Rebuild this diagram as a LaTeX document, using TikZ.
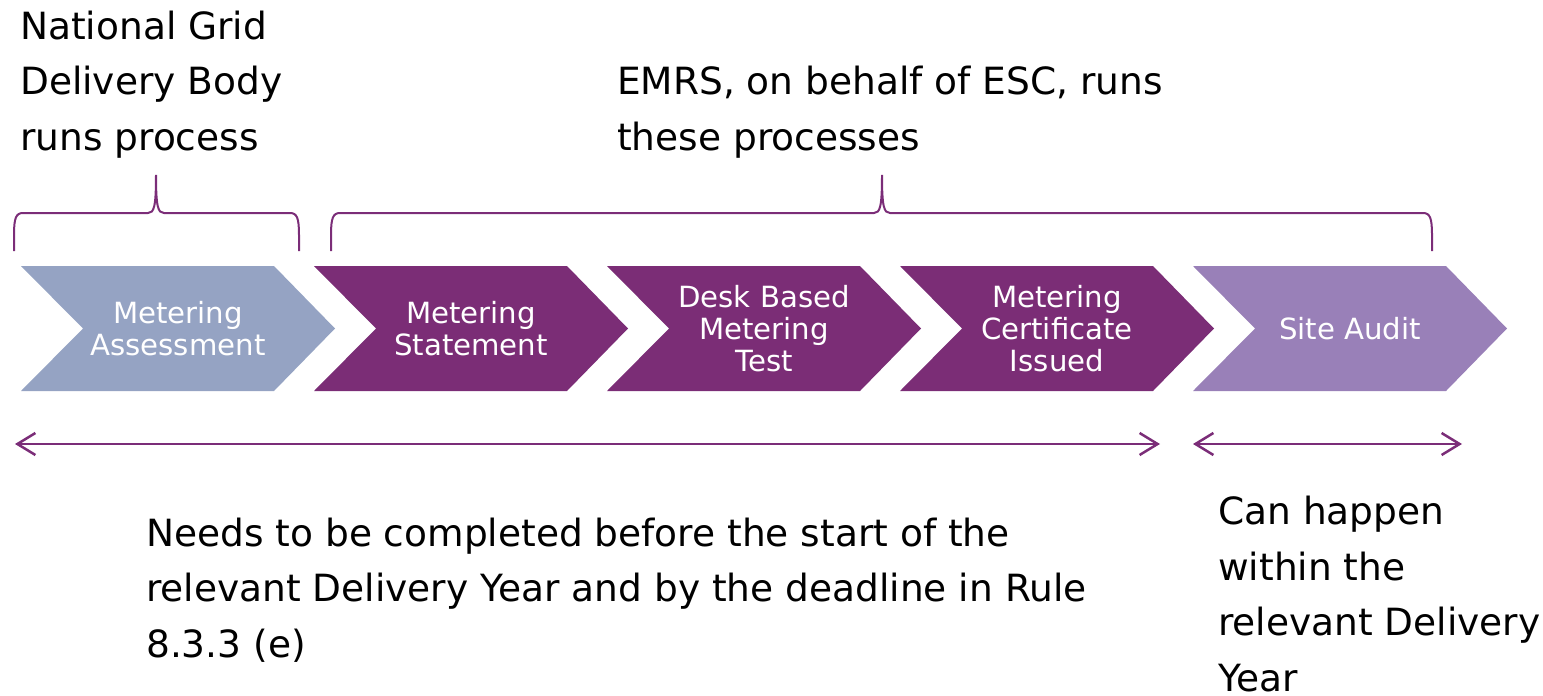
\documentclass[tikz,border=0pt]{standalone}
\usepackage{fontspec}
\setmainfont{DejaVu Sans}
\usetikzlibrary{arrows.meta}
\definecolor{bluegray}{RGB}{149,163,195}
\definecolor{darkpurple}{RGB}{123,45,118}
\definecolor{lightpurple}{RGB}{153,128,184}
\definecolor{linepurple}{RGB}{123,45,120}
\tikzset{
  bigtext/.style={anchor=base west, inner sep=0pt, align=left, font=\fontsize{37.5}{55.5}\selectfont},
  chevtext/.style={text=white, align=center, inner sep=0pt, font=\fontsize{29.2}{32}\selectfont},
  bracket/.style={draw=linepurple, line width=2pt},
  span/.style={draw=linepurple, line width=2.5pt, {Straight Barb[length=18pt,width=22pt]}-{Straight Barb[length=18pt,width=22pt]}},
}
\newcommand\mychev[3]{%
  \fill[#2] (#1,266) -- ++(253,0) -- ++(61,62.5) -- ++(-61,62.5) -- ++(-253,0) -- ++(62,-62.5) -- cycle;
  \coordinate (#3) at (#1+157,328.5);}
\newcommand\mybrace[3]{% left, mid, right
  \draw[bracket] (#1,251) -- (#1,235) .. controls (#1,218) and (#1+2,213) .. (#1+9,213)
    -- (#2-8,213) .. controls (#2-2,213) and (#2,207) .. (#2,175)
    .. controls (#2,207) and (#2+2,213) .. (#2+8,213)
    -- (#3-9,213) .. controls (#3-2,213) and (#3,218) .. (#3,235) -- (#3,251);}
\begin{document}
\begin{tikzpicture}[x=1pt,y=-1pt]
\useasboundingbox (0,0) rectangle (1543,696);
% top labels (base anchor = last line baseline)
\node[bigtext] (ngdb) at (20,150) {National Grid\\Delivery Body\\runs process};
\node[bigtext] (emrs) at (617,150) {EMRS, on behalf of ESC, runs\\these processes};
% braces
\mybrace{14}{156}{299}
\mybrace{331}{882}{1432}
% chevrons
\mychev{21}{bluegray}{c1}
\mychev{314}{darkpurple}{c2}
\mychev{607}{darkpurple}{c3}
\mychev{900}{darkpurple}{c4}
\mychev{1193}{lightpurple}{c5}
\node[chevtext] (t1) at (c1) {Metering\\Assessment};
\node[chevtext] (t2) at (c2) {Metering\\Statement};
\node[chevtext] (t3) at (c3) {Desk Based\\Metering\\Test};
\node[chevtext] (t4) at (c4) {Metering\\Certificate\\Issued};
\node[chevtext] (t5) at (c5) {Site Audit};
% spans
\coordinate (a1) at (15,444);
\coordinate (b1) at (1160,444);
\coordinate (a2) at (1193,444);
\coordinate (b2) at (1462,444);
\draw[span] (a1) -- (b1);
\draw[span] (a2) -- (b2);
% bottom labels
\node[bigtext] (needs) at (146,657) {Needs to be completed before the start of the\\relevant Delivery Year and by the deadline in Rule\\8.3.3 (e)};
\node[bigtext] (can) at (1218,691) {Can happen\\within the\\relevant Delivery\\Year};
\end{tikzpicture}
\end{document}
